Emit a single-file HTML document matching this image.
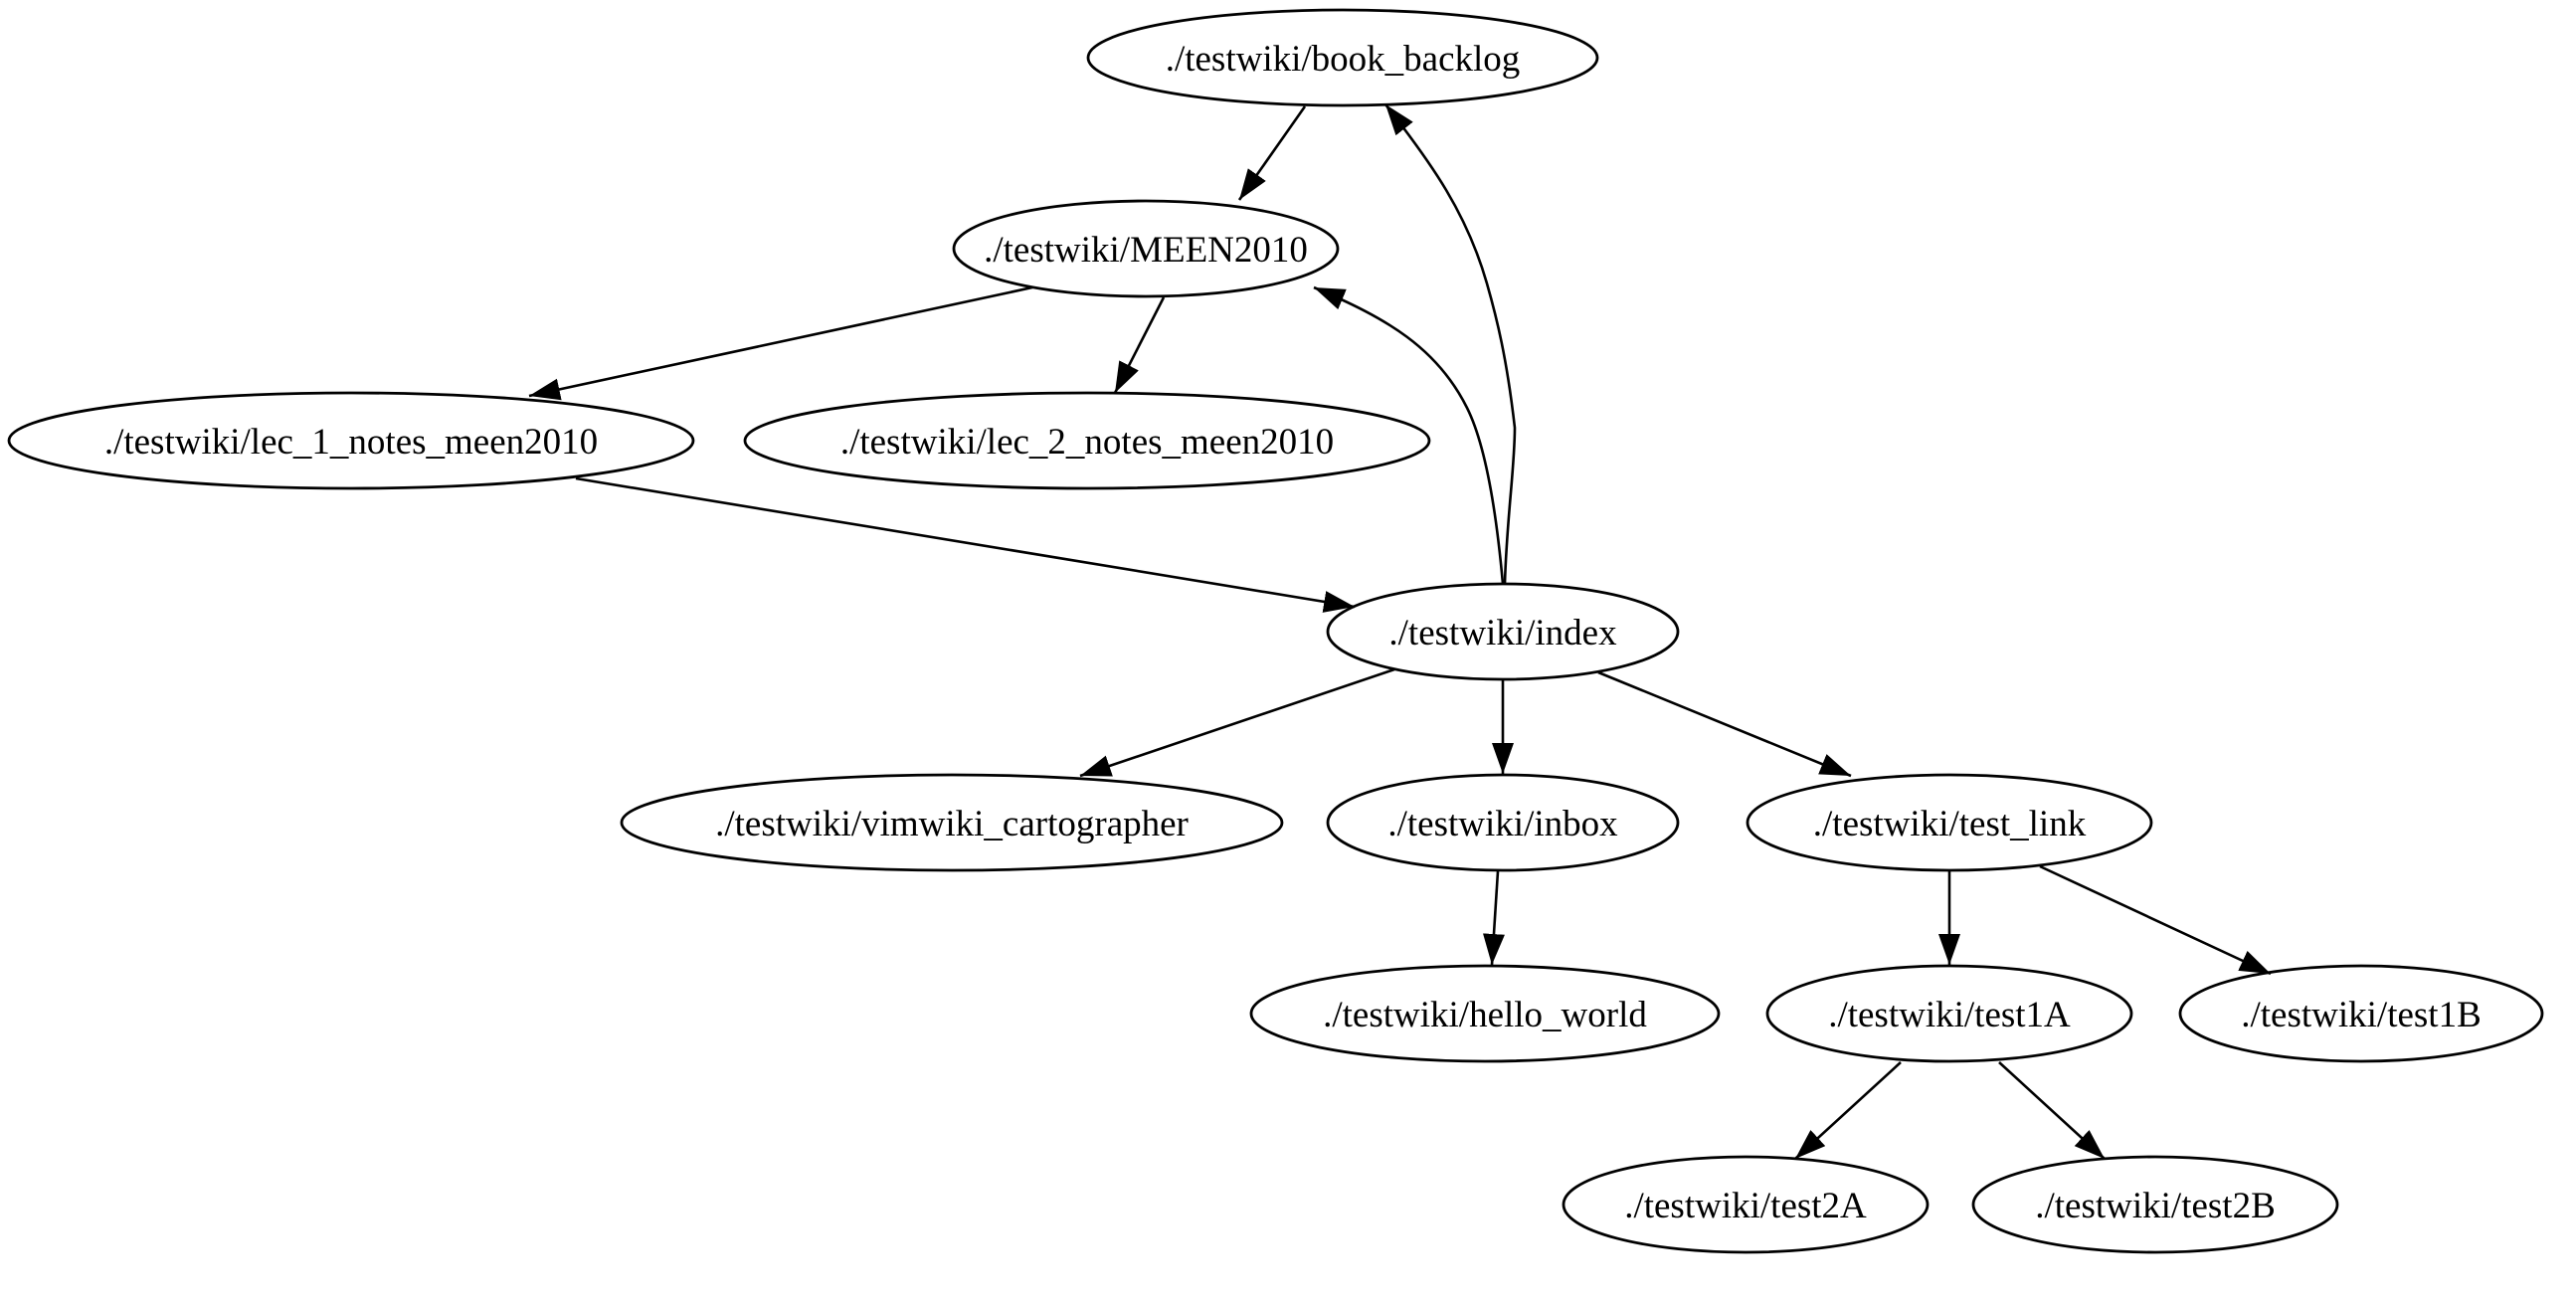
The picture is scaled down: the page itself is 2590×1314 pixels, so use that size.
<!DOCTYPE html>
<html><head><meta charset="utf-8"><style>
html,body{margin:0;padding:0;background:#fff;}
svg{display:block;}
text{font-family:"Liberation Serif",serif;font-size:37px;fill:#000;}
</style></head><body>
<svg width="2590" height="1314" viewBox="0 0 2590 1314" xmlns="http://www.w3.org/2000/svg">
<defs>
<marker id="a" markerUnits="userSpaceOnUse" markerWidth="34" markerHeight="24" refX="31" refY="11" orient="auto">
<path d="M0,0 L31,11 L0,22 z" fill="#000"/>
</marker>
</defs>
<g fill="none" stroke="#000" stroke-width="2.8">
<ellipse cx="1350" cy="58" rx="256" ry="48"/>
<ellipse cx="1152" cy="250" rx="193" ry="48"/>
<ellipse cx="353" cy="443" rx="344" ry="48"/>
<ellipse cx="1093" cy="443" rx="344" ry="48"/>
<ellipse cx="1511" cy="635" rx="176" ry="48"/>
<ellipse cx="957" cy="827" rx="332" ry="48"/>
<ellipse cx="1511" cy="827" rx="176" ry="48"/>
<ellipse cx="1960" cy="827" rx="203" ry="48"/>
<ellipse cx="1493" cy="1019" rx="235" ry="48"/>
<ellipse cx="1960" cy="1019" rx="183" ry="48"/>
<ellipse cx="2374" cy="1019" rx="182" ry="48"/>
<ellipse cx="1755" cy="1211" rx="183" ry="48"/>
<ellipse cx="2167" cy="1211" rx="183" ry="48"/>
</g>
<g fill="none" stroke="#000" stroke-width="2.6" marker-end="url(#a)">
<path d="M1312,107 L1246,201"/>
<path d="M1038,289 L532,398"/>
<path d="M1170,299 L1121,395"/>
<path d="M579,481 L1362,610"/>
<path d="M1513,587 C1515,520 1523,470 1523,430 C1515,360 1505,320 1495,285 C1475,215 1440,165 1393,105"/>
<path d="M1511,587 C1505,520 1495,450 1475,410 C1445,350 1395,320 1321,289"/>
<path d="M1402,673 L1086,780"/>
<path d="M1511,683 L1511,778"/>
<path d="M1607,676 L1861,780"/>
<path d="M1506,876 L1500,970"/>
<path d="M1960,876 L1960,970"/>
<path d="M2051,871 L2283,979"/>
<path d="M1911,1068 L1805,1165"/>
<path d="M2010,1068 L2116,1165"/>
</g>
<g text-anchor="middle">
<text x="1350" y="71">./testwiki/book_backlog</text>
<text x="1152" y="263">./testwiki/MEEN2010</text>
<text x="353" y="456">./testwiki/lec_1_notes_meen2010</text>
<text x="1093" y="456">./testwiki/lec_2_notes_meen2010</text>
<text x="1511" y="648">./testwiki/index</text>
<text x="957" y="840">./testwiki/vimwiki_cartographer</text>
<text x="1511" y="840">./testwiki/inbox</text>
<text x="1960" y="840">./testwiki/test_link</text>
<text x="1493" y="1032">./testwiki/hello_world</text>
<text x="1960" y="1032">./testwiki/test1A</text>
<text x="2374" y="1032">./testwiki/test1B</text>
<text x="1755" y="1224">./testwiki/test2A</text>
<text x="2167" y="1224">./testwiki/test2B</text>
</g>
</svg>
</body></html>
